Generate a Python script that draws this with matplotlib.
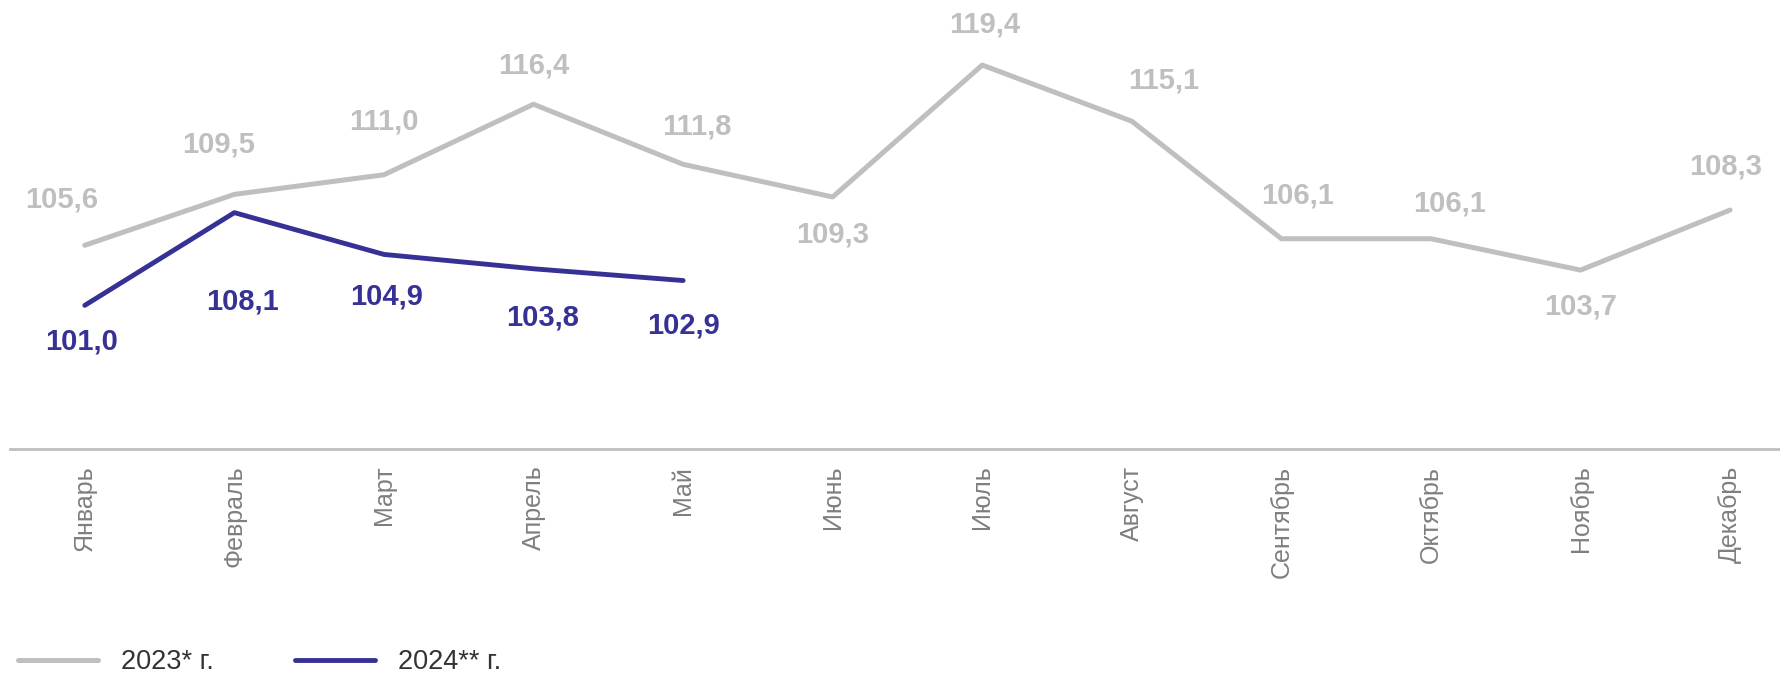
import matplotlib.pyplot as plt

# ---------------------------
# Данные
# ---------------------------
months = ["Январь", "Февраль", "Март", "Апрель", "Май", "Июнь", "Июль",
          "Август", "Сентябрь", "Октябрь", "Ноябрь", "Декабрь"]
values_2023 = [105.6, 109.5, 111.0, 116.4, 111.8, 109.3, 119.4, 115.1, 106.1, 106.1, 103.7, 108.3]
values_2024 = [101.0, 108.1, 104.9, 103.8, 102.9]
label_2023 = "2023* г."
label_2024 = "2024** г."

# смещения подписей (px)
offs_2023 = [(-20, 40), (-14, 44), (0, 47), (0, 34), (12, 33), (0, -33),
             (2, 36), (28, 36), (14, 38), (16, 31), (0, -32), (-4, 38)]
offs_2024 = [(-3, -32), (7, -78), (2, -37), (8, -43), (0, -40)]

GRAY = "#BFBFBF"
BLUE = "#363194"
TICK = "#7F7F7F"

plt.rcParams['font.family'] = ['Liberation Sans', 'DejaVu Sans']

fig = plt.figure(figsize=(17.81, 6.75), dpi=100)
ax = fig.add_axes([10 / 1781, 1 - 449 / 675, 1 - 10 / 1781, 444 / 675])

x1 = list(range(len(values_2023)))
x2 = list(range(len(values_2024)))
l1, = ax.plot(x1, values_2023, color=GRAY, lw=3.6, solid_capstyle='round', label=label_2023)
l2, = ax.plot(x2, values_2024, color=BLUE, lw=3.5, solid_capstyle='round', label=label_2024)

k = 1.136 * 0.72
for x, v, (dx, dy) in zip(x1, values_2023, offs_2023):
    ax.annotate(f"{v:.1f}".replace(".", ","), (x, v), xytext=(dx * k, dy * k),
                textcoords="offset points", ha="center", va="center",
                fontsize=21, fontweight="bold", color=GRAY)
for x, v, (dx, dy) in zip(x2, values_2024, offs_2024):
    ax.annotate(f"{v:.1f}".replace(".", ","), (x, v), xytext=(dx * k, dy * k),
                textcoords="offset points", ha="center", va="center",
                fontsize=21, fontweight="bold", color=BLUE)

ax.set_xlim(-0.5, 11.34)
ax.set_ylim(90, 124)
ax.set_xticks(x1)
ax.set_xticklabels(months, rotation=90, fontsize=18, color=TICK, va="top")
ax.tick_params(axis="x", length=0, pad=12)
ax.set_yticks([])
for s in ["top", "right", "left"]:
    ax.spines[s].set_visible(False)
ax.spines["bottom"].set_color(GRAY)
ax.spines["bottom"].set_linewidth(2)
ax.set_facecolor("none")

fig.legend(handles=[l1, l2], loc="center left", bbox_to_anchor=(18 / 1781, 1 - 662 / 675),
           ncol=2, frameon=False, fontsize=19.5, handlelength=2.95, handletextpad=0.85,
           columnspacing=3.0, labelcolor="#333333", borderpad=0, borderaxespad=0)

fig.savefig("out.png", dpi=100)
